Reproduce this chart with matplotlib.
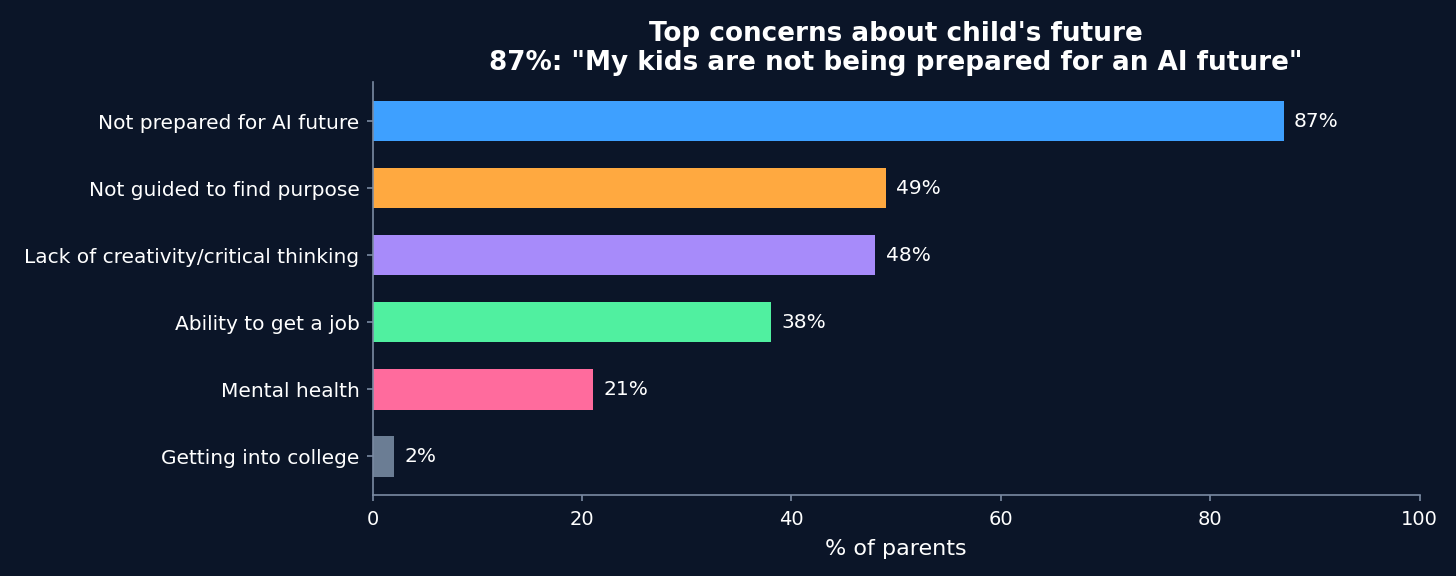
import matplotlib
matplotlib.use("Agg")
import matplotlib.pyplot as plt

categories = ["Not prepared for AI future", "Not guided to find purpose",
              "Lack of creativity/critical thinking", "Ability to get a job",
              "Mental health", "Getting into college"]
values = [87, 49, 48, 38, 21, 2]
colors = ["#3ea0ff", "#ffa940", "#a78bfa", "#50f0a0", "#ff6b9d", "#6b7d94"]

bg = "#0b1528"
axis_col = "#7a8aa2"

fig, ax = plt.subplots(figsize=(14.56, 5.76), dpi=100)
fig.patch.set_facecolor(bg)
ax.set_facecolor(bg)

y = list(range(len(categories)))
ax.barh(y, values, height=0.6, color=colors)
ax.invert_yaxis()
ax.set_yticks(y)
ax.set_yticklabels(categories)

for yi, v in zip(y, values):
    ax.text(v + 1, yi, f"{v}%", va="center", ha="left", color="white", fontsize=14.5)

ax.set_xlim(0, 100)
ax.set_xticks([0, 20, 40, 60, 80, 100])
ax.set_xlabel("% of parents", color="white", fontsize=16, labelpad=7)
ax.set_title("Top concerns about child's future\n87%: \"My kids are not being prepared for an AI future\"",
             color="white", fontsize=18.9, fontweight="bold", linespacing=1.12, pad=9)

ax.tick_params(axis="y", colors="white", labelsize=14.5, pad=5.5, length=4)
ax.tick_params(axis="x", colors="white", labelsize=14, pad=6.5, length=4)
for s in ["top", "right"]:
    ax.spines[s].set_visible(False)
for s in ["left", "bottom"]:
    ax.spines[s].set_color(axis_col)
    ax.spines[s].set_linewidth(1.2)
ax.tick_params(axis="both", color=axis_col, width=1.2)
for lbl in ax.get_xticklabels() + ax.get_yticklabels():
    lbl.set_color("white")

plt.subplots_adjust(left=0.256, right=0.975, top=0.857, bottom=0.14)
plt.savefig("out.png", facecolor=bg)
